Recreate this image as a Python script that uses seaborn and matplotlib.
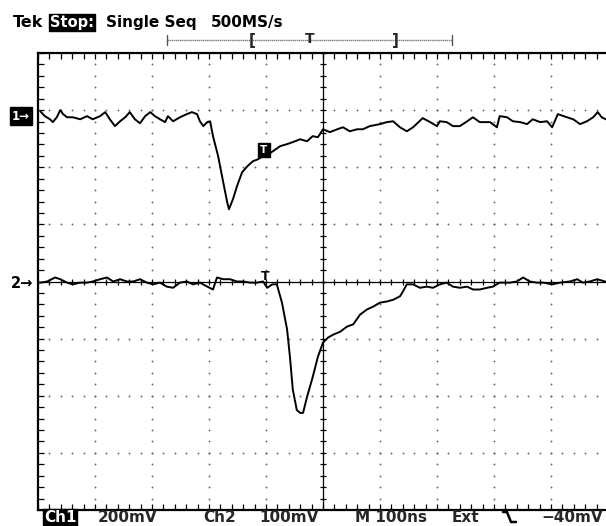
import numpy as np
import pandas as pd
import matplotlib
matplotlib.use("Agg")
import matplotlib.pyplot as plt
from matplotlib.lines import Line2D
import seaborn as sns

# ---------------- data (time in ns, amplitude in mV) ----------------
ch1_t = [-496, -488, -479, -474, -467, -461, -456, -449, -439, -426, -414, -404, -391, -382,
         -374, -365, -356, -347, -339, -330, -321, -312, -303, -295, -286, -277, -272, -263,
         -251, -239, -230, -221, -216, -210, -203, -198, -193, -184, -175, -168, -165, -158,
         -151, -142, -133, -123, -114, -105, -96, -88, -75, -63, -53, -40, -28, -18, -9,
         0, 12, 25, 35, 47, 60, 70, 82, 100, 112, 123, 135, 147, 158, 175, 188, 200, 205,
         217, 228, 240, 253, 263, 275, 293, 305, 310, 323, 333, 346, 358, 368, 381, 393,
         402, 412, 428, 439, 451, 463, 474, 482, 489, 496]
ch1_mv = [-4, -21, -32, -42, -25, 0, -14, -25, -25, -32, -21, -32, -21, -7,
          -32, -56, -39, -25, -7, -32, -46, -21, -7, -21, -32, -42, -21, -39,
          -25, -14, -7, -14, -39, -56, -42, -39, -91, -161, -253, -323, -347, -312,
          -267, -218, -197, -179, -172, -161, -154, -144, -126, -119, -112, -102, -109, -91, -95,
          -67, -77, -67, -60, -74, -67, -67, -56, -49, -42, -39, -60, -74, -60, -28, -42, -56, -39,
          -42, -56, -56, -39, -25, -42, -42, -60, -21, -25, -39, -42, -49, -32, -42, -39,
          -60, -14, -25, -32, -49, -39, -25, -7, -25, -32]

ch2_t = [-496, -484, -470, -461, -449, -439, -426, -414, -404, -391, -379, -368, -356, -344,
         -333, -321, -309, -298, -286, -274, -263, -251, -239, -228, -216, -203, -193, -186,
         -175, -163, -151, -140, -128, -116, -105, -98, -89, -81, -72, -63, -58, -53, -46,
         -40, -35, -28, -18, -9, 0, 9, 18, 30, 42, 53, 65, 77, 88, 100, 112, 123, 135, 140,
         147, 158, 170, 182, 193, 205, 217, 228, 240, 253, 263, 275, 288, 298, 310, 328, 340,
         351, 363, 375, 386, 402, 416, 433, 446, 456, 468, 481, 495]
ch2_mv = [-2, 0, 7, 4, -2, -5, -2, -2, 0, 4, 7, 0, 4, 0,
          0, 4, -2, -5, -2, -9, -11, -2, 0, -5, -2, -9, -14, 7,
          4, 4, 0, 0, -2, -2, 0, -11, -5, -5, -37, -84, -132, -189, -225,
          -230, -230, -202, -167, -132, -107, -98, -93, -88, -79, -75, -58, -49, -44, -37, -35, -32, -26, -18,
          -5, -5, -11, -9, -11, -5, -2, -9, -11, -9, -14, -14, -11, -9, -2, -2, 0,
          7, 0, -2, -2, -5, -2, 0, 4, -2, 0, 4, 0]

header_left = ["Tek", "Stop:", "Single Seq", "500MS/s"]
footer = ["Ch1", "200mV", "Ch2", "100mV", "M 100ns", "Ext", "−40mV"]

TIME_PER_DIV = 100.0   # ns/div
CH1_PER_DIV = 200.0    # mV/div
CH2_PER_DIV = 100.0    # mV/div
CH1_POS = 3.0          # divisions
CH2_POS = 0.0

df = pd.concat([
    pd.DataFrame({"x": np.array(ch1_t) / TIME_PER_DIV,
                  "y": np.array(ch1_mv) / CH1_PER_DIV + CH1_POS, "ch": "Ch1"}),
    pd.DataFrame({"x": np.array(ch2_t) / TIME_PER_DIV,
                  "y": np.array(ch2_mv) / CH2_PER_DIV + CH2_POS, "ch": "Ch2"}),
])

# ---------------- figure ----------------
sns.set_theme(style="white")
FONT = ["DejaVu Sans"]
plt.rcParams["font.family"] = FONT

W, H = 606, 526
fig = plt.figure(figsize=(W / 100, H / 100), dpi=100)
fig.patch.set_facecolor("white")
L, R, T, B = 38, 608, 53, 510
ax = fig.add_axes([L / W, (H - B) / H, (R - L) / W, (B - T) / H])
ax.set_xlim(-5, 5)
ax.set_ylim(-4, 4)
ax.set_facecolor("white")

# dotted graticule
dot_x, dot_y = [], []
steps_y = np.round(np.arange(-4, 4.001, 0.2), 3)
steps_x = np.round(np.arange(-5, 5.001, 0.2), 3)
for gx in range(-4, 5):
    if gx == 0:
        continue
    dot_x += [gx] * len(steps_y)
    dot_y += list(steps_y)
for gy in range(-3, 4):
    if gy == 0:
        continue
    dot_x += list(steps_x)
    dot_y += [gy] * len(steps_x)
ax.scatter(dot_x, dot_y, s=1.8, color="#666666", linewidths=0, zorder=1)

# centre cross with ticks
ax.axhline(0, color="black", lw=0.9, zorder=2)
ax.axvline(0, color="black", lw=0.9, zorder=2)
ax.scatter(np.zeros(len(steps_y)), steps_y, marker="_", s=22, color="black", linewidths=0.9, zorder=2)
ax.scatter(steps_x, np.zeros(len(steps_x)), marker="|", s=22, color="black", linewidths=0.9, zorder=2)

# traces
sns.lineplot(data=df, x="x", y="y", units="ch", estimator=None, sort=False,
             color="black", lw=1.4, ax=ax, zorder=4, legend=False)
ax.set_xlabel("")
ax.set_ylabel("")

# frame ticks
ax.set_xticks(steps_x)
ax.set_yticks(steps_y)
ax.tick_params(axis="both", which="both", direction="in", length=4, width=0.9, color="black",
               top=True, bottom=True, left=True, right=False,
               labelbottom=False, labelleft=False)
for side in ["left", "top", "bottom"]:
    ax.spines[side].set_visible(True)
    ax.spines[side].set_color("black")
    ax.spines[side].set_linewidth(1.6)
ax.spines["right"].set_visible(False)


def fx(x):
    return x / W


def fy(y):
    return 1 - y / H


# header
HS = 11
fig.text(fx(13), fy(27), header_left[0], fontsize=HS + 0.5, fontweight="bold", color="black",
         va="baseline")
fig.text(fx(50), fy(27), header_left[1], fontsize=HS - 0.5, fontweight="bold", color="white",
         va="baseline",
         bbox=dict(boxstyle="square,pad=0.1", facecolor="black", edgecolor="black"))
fig.text(fx(106), fy(27), header_left[2], fontsize=HS, fontweight="bold", color="black",
         va="baseline")
fig.text(fx(211), fy(27), header_left[3], fontsize=HS, fontweight="bold", color="black",
         va="baseline")

# record/trigger bar
fig.add_artist(Line2D([fx(167), fx(452)], [fy(40), fy(40)], color="#777777", lw=1.0,
                      linestyle=(0, (1, 0.5))))
for xx in (167, 452):
    fig.add_artist(Line2D([fx(xx), fx(xx)], [fy(35), fy(45)], color="#555555", lw=1.0))
fig.text(fx(252), fy(40), "[", fontsize=11, fontweight="bold", ha="center", va="center")
fig.text(fx(395), fy(40), "]", fontsize=11, fontweight="bold", ha="center", va="center")
fig.text(fx(310), fy(39), "T", fontsize=10, fontweight="bold", ha="center", va="center")

# channel markers
fig.text(fx(12), fy(116), "1→", fontsize=8.5, fontweight="bold", color="white", va="center",
         bbox=dict(boxstyle="square,pad=0.2", facecolor="black", edgecolor="black"))
fig.text(fx(11), fy(283), "2→", fontsize=10.5, fontweight="bold", color="black", va="center")

# trigger markers on traces
fig.text(fx(264), fy(150), "T", fontsize=7.5, fontweight="bold", color="white", ha="center",
         va="center",
         bbox=dict(boxstyle="square,pad=0.2", facecolor="black", edgecolor="black"))
fig.text(fx(265), fy(276), "T", fontsize=9, fontweight="bold", color="black", ha="center",
         va="center")

# footer
ybase = 522
FS = 11
fig.text(fx(44), fy(ybase), footer[0], fontsize=FS, fontweight="bold", color="white",
         va="baseline",
         bbox=dict(boxstyle="square,pad=0.05", facecolor="black", edgecolor="black"))
fig.text(fx(98), fy(ybase), footer[1], fontsize=FS, fontweight="bold", va="baseline")
fig.text(fx(203), fy(ybase), footer[2], fontsize=FS, fontweight="bold", va="baseline")
fig.text(fx(259), fy(ybase), footer[3], fontsize=FS, fontweight="bold", va="baseline")
fig.text(fx(355), fy(ybase), footer[4], fontsize=FS, fontweight="bold", va="baseline")
fig.text(fx(452), fy(ybase), footer[5], fontsize=FS, fontweight="bold", va="baseline")
fig.add_artist(Line2D([fx(503), fx(507), fx(511), fx(516)],
                      [fy(512), fy(512), fy(522), fy(522)], color="black", lw=1.8))
fig.text(fx(541), fy(ybase), footer[6], fontsize=FS, fontweight="bold", va="baseline")

fig.savefig("out.png", dpi=100, facecolor="white")
